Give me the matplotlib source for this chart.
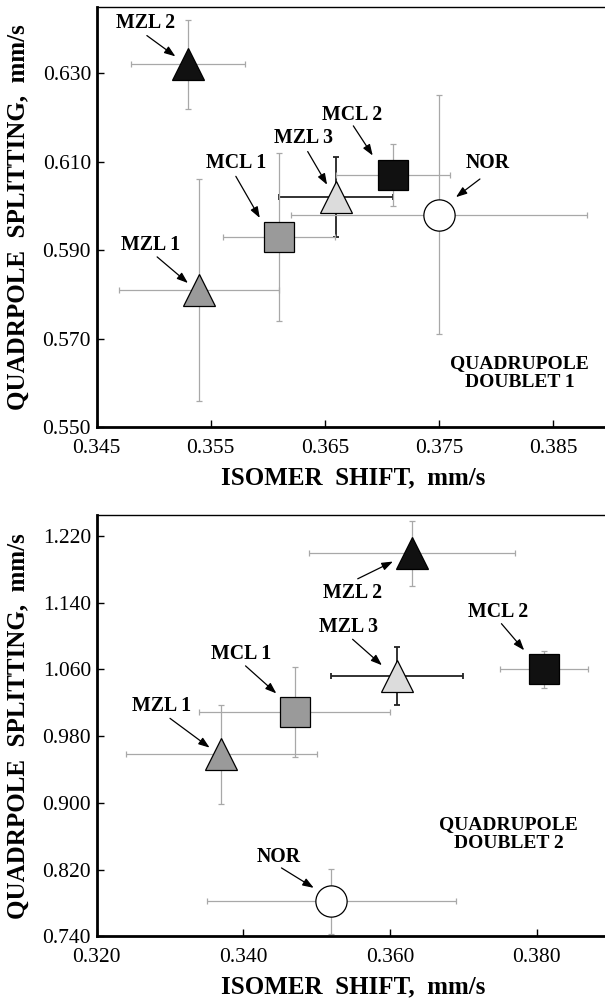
"""
Mössbauer parameters: quadrupole splitting vs isomer shift, two doublets.
Output: out.png
"""
import matplotlib
matplotlib.use("Agg")
import matplotlib.pyplot as plt

plt.rcParams["font.family"] = ["Liberation Serif", "DejaVu Serif"]

SAMPLES = ["MZL 1", "MZL 2", "MZL 3", "MCL 1", "MCL 2", "NOR"]
MARKERS = ["^", "^", "^", "s", "s", "o"]
FILLS = ["#9a9a9a", "#111111", "#dcdcdc", "#9a9a9a", "#111111", "#ffffff"]

# doublet 1
IS1 = [0.354, 0.353, 0.366, 0.361, 0.371, 0.375]
IS1_ERR = [0.007, 0.005, 0.005, 0.0049, 0.005, 0.013]
QS1 = [0.581, 0.632, 0.602, 0.593, 0.607, 0.598]
QS1_ERR = [0.025, 0.010, 0.009, 0.019, 0.007, 0.027]

# doublet 2
IS2 = [0.337, 0.363, 0.361, 0.347, 0.381, 0.352]
IS2_ERR = [0.013, 0.014, 0.009, 0.013, 0.006, 0.017]
QS2 = [0.958, 1.199, 1.052, 1.009, 1.060, 0.782]
QS2_ERR = [0.059, 0.039, 0.035, 0.054, 0.022, 0.039]

# label placement (data coords): text centre, arrow tail, arrow head
LAB1 = [(0.3497, 0.5913), (0.3493, 0.6413), (0.3631, 0.6153),
        (0.3572, 0.6097), (0.3674, 0.6206), (0.3793, 0.6097)]
ARR1 = [((0.3503, 0.5885), (0.3530, 0.5826)), ((0.3494, 0.6385), (0.3519, 0.6338)),
        ((0.3635, 0.6123), (0.3652, 0.6048)), ((0.3572, 0.6067), (0.3593, 0.5973)),
        ((0.3675, 0.6181), (0.3692, 0.6114)), ((0.3786, 0.6061), (0.3765, 0.6020))]
LAB2 = [(0.3289, 1.0164), (0.3549, 1.1515), (0.3544, 1.1108),
        (0.3397, 1.0790), (0.3747, 1.1288), (0.3448, 0.8351)]
ARR2 = [((0.3300, 1.0013), (0.3354, 0.9662)), ((0.3556, 1.1686), (0.3604, 1.1893)),
        ((0.3549, 1.0961), (0.3589, 1.0650)), ((0.3403, 1.0642), (0.3445, 1.0312)),
        ((0.3752, 1.1148), (0.3783, 1.0829)), ((0.3452, 0.8220), (0.3496, 0.7981))]


def panel(ax, xs, xe, ys, ye, labs, arrows, xticks, yticks, xlim, ylim, tag, tagpos):
    for i, name in enumerate(SAMPLES):
        dark = name == "MZL 3"
        ax.errorbar(xs[i], ys[i], xerr=xe[i], yerr=ye[i], fmt="none",
                    ecolor="#222222" if dark else "#a8a8a8",
                    elinewidth=1.3 if dark else 0.9, capsize=2.5,
                    capthick=1.3 if dark else 0.9, zorder=2)
        ax.plot(xs[i], ys[i], marker=MARKERS[i], ms=22.5 if MARKERS[i] != "s" else 21,
                mfc=FILLS[i], mec="black", mew=0.9, ls="none", zorder=3)
        ax.text(labs[i][0], labs[i][1], name, ha="center", va="center",
                fontsize=14.3, fontweight="bold")
        tail, head = arrows[i]
        ax.annotate("", xy=head, xytext=tail,
                    arrowprops=dict(arrowstyle="-|>,head_length=0.55,head_width=0.2",
                                    color="black", lw=0.9, mutation_scale=12,
                                    shrinkA=0, shrinkB=0))
    ax.text(tagpos[0], tagpos[1], tag, ha="center", va="center", fontsize=14,
            fontweight="bold", linespacing=1.15)

    ax.set_xlim(*xlim)
    ax.set_ylim(*ylim)
    ax.set_xticks(xticks)
    ax.set_yticks(yticks)
    ax.set_xticklabels([f"{v:.3f}" for v in xticks])
    ax.set_yticklabels([f"{v:.3f}" for v in yticks])
    ax.tick_params(direction="in", length=5, width=1, labelsize=15.5, pad=4)
    ax.tick_params(axis="x", pad=8.5)
    ax.set_xlabel("ISOMER  SHIFT,  mm/s", fontsize=18, fontweight="bold")
    ax.set_ylabel("QUADRPOLE  SPLITTING,  mm/s", fontsize=18, fontweight="bold")
    ax.xaxis.set_label_coords(0.5, -0.092)
    ax.yaxis.set_label_coords(-0.13, 0.5)
    for s in ("left", "bottom"):
        ax.spines[s].set_linewidth(2)
    for s in ("top", "right"):
        ax.spines[s].set_linewidth(1)


fig = plt.figure(figsize=(6.05, 9.98), dpi=100)
ax1 = fig.add_axes([0.1598, 0.5718, 0.8484, 0.4214])
ax2 = fig.add_axes([0.1598, 0.0618, 0.8484, 0.4221])

panel(ax1, IS1, IS1_ERR, QS1, QS1_ERR, LAB1, ARR1,
      [0.345, 0.355, 0.365, 0.375, 0.385], [0.550, 0.570, 0.590, 0.610, 0.630],
      (0.345, 0.390), (0.550, 0.645), "QUADRUPOLE\nDOUBLET 1", (0.3821, 0.5623))
panel(ax2, IS2, IS2_ERR, QS2, QS2_ERR, LAB2, ARR2,
      [0.320, 0.340, 0.360, 0.380], [0.740, 0.820, 0.900, 0.980, 1.060, 1.140, 1.220],
      (0.320, 0.390), (0.740, 1.245), "QUADRUPOLE\nDOUBLET 2", (0.3762, 0.863))

fig.savefig("out.png", dpi=100, facecolor="white")
